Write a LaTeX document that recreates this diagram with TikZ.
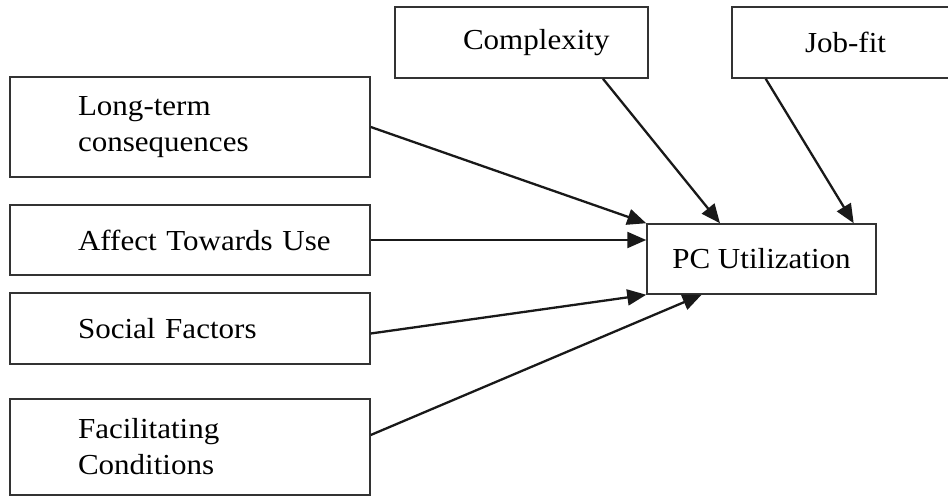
\documentclass[tikz,border=0pt]{standalone}
\usepackage{fontspec}
\setmainfont{Liberation Serif}[FakeStretch=1.07]
\usetikzlibrary{positioning,arrows.meta,calc}

\begin{document}
\begin{tikzpicture}[
    x=1pt,y=-1pt,
    box/.style={rectangle,draw=black!80,line width=1.5pt,inner xsep=68pt,inner ysep=0pt,align=left,font=\fontsize{29}{36}\selectfont},
    arrow/.style={-{Triangle[length=19pt,width=16pt]},line width=2.3pt,draw=black!90}
]
    \useasboundingbox (0,0) rectangle (948,497);

    % Determinants
    \node[box,text width=224pt,minimum height=100pt] (ltc) at (190,127) {Long-term\\consequences};
    \node[box,text width=224pt,minimum height=70pt] (atu) at (190,240) {\mbox{Affect Towards Use}};
    \node[box,text width=224pt,minimum height=71pt] (sf) at (190,328.5) {\mbox{Social Factors}};
    \node[box,text width=224pt,minimum height=96pt] (fc) at (190,447) {Facilitating\\Conditions};
    \node[box,text width=117pt,minimum height=71pt] (cx) at (521.5,42.5) {\mbox{Complexity}};
    \node[box,text width=82pt,inner xsep=73pt,minimum height=71pt] (jf) at (846,42.5) {\mbox{Job-fit}};

    % Outcome
    \node[box,align=center,inner xsep=0pt,minimum width=229pt,minimum height=70pt] (pcu) at (761.5,259) {PC Utilization};

    % Arrows
    \draw[arrow] (ltc.east) -- (pcu.north west);
    \draw[arrow] (atu.east) -- (atu.east -| pcu.west);
    \draw[arrow] ([yshift=-5pt]sf.east) -- (pcu.south west);
    \draw[arrow] ([yshift=12pt]fc.east) -- ($(pcu.south west)!0.24!(pcu.south east)$);
    \draw[arrow] ($(cx.south west)!0.82!(cx.south east)$) -- ($(pcu.north west)!0.32!(pcu.north east)$);
    \draw[arrow] ($(jf.south west)!0.15!(jf.south east)$) -- ($(pcu.north west)!0.9!(pcu.north east)$);
\end{tikzpicture}
\end{document}
